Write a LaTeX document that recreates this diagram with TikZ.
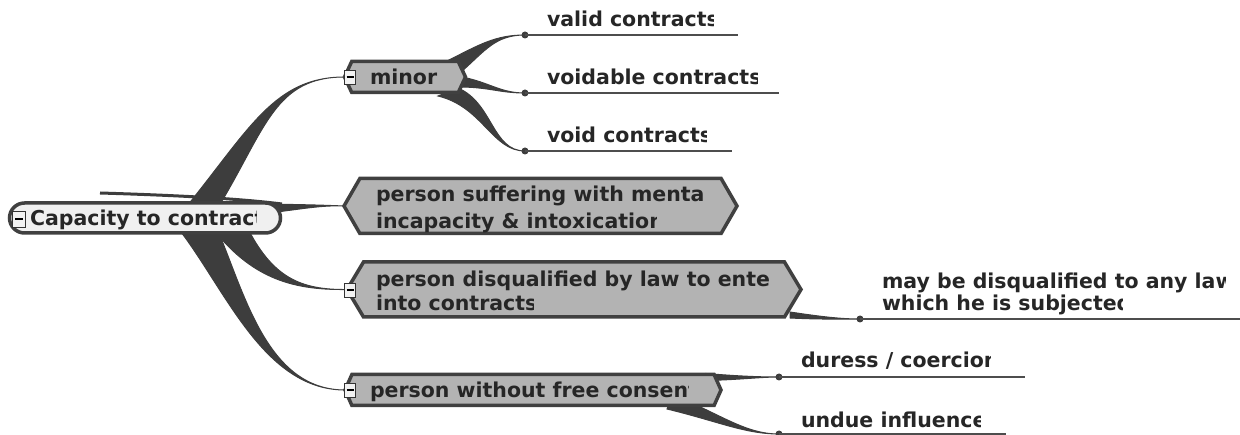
\documentclass[tikz,border=0pt]{standalone}
\usepackage{fontspec}
\setmainfont{DejaVu Sans}
\usetikzlibrary{shapes.symbols,calc,backgrounds}
\definecolor{brc}{HTML}{3D3D3D}
\definecolor{hexfill}{HTML}{B3B3B3}
\definecolor{hexline}{HTML}{404040}
\definecolor{rootfill}{HTML}{F0F0F0}
\definecolor{txt}{HTML}{262626}
\definecolor{ulinec}{HTML}{4D4D4D}

% label line, cut off at the right like the original
\newcommand{\cutlabel}[5]{%
  \begin{scope}
    \clip (#2-3,#3-24) rectangle (#4,#3+8);
    \node[lbl] (#1) at (#2,#3) {#5};
  \end{scope}}
% tapered branch: start, control 1, control 2, end, half width
\newcommand{\twig}[5]{%
  \fill[branch] ($#1+#5$) .. controls ($#2+0.5*#5$) and #3 .. #4
    .. controls #3 and ($#2-0.5*#5$) .. ($#1-#5$) -- cycle;}

\begin{document}
\begin{tikzpicture}[x=1pt,y=-1pt,
  every node/.style={inner sep=0pt,outer sep=0pt},%
  lbl/.style={font=\bfseries\fontsize{20.5}{24}\selectfont,text=txt,anchor=base west},%
  hex/.style={shape=signal,signal to=west and east,draw=hexline,fill=hexfill,line width=3.5pt},%
  topic/.style={rectangle,rounded corners=15pt,draw=hexline,fill=rootfill,line width=3.5pt},%
  branch/.style={fill=brc,draw=brc,line width=1pt},%
  uline/.style={draw=ulinec,line width=2pt},%
  knob/.style={circle,fill=brc,minimum size=7pt},%
  fold/.style={draw=black!80,fill=gray!10,line width=0.8pt,minimum width=11pt,minimum height=14pt},%
  ]
  \useasboundingbox (0,0) rectangle (1240,435);

  % main topic and sub topics
  \node (root) [topic,minimum width=271pt,minimum height=30pt] at (145,218) {};
  \node (minor) [hex,minimum width=121pt,minimum height=31pt,signal pointer angle=130] at (405,77) {};
  \node (mental) [hex,minimum width=393pt,minimum height=55pt,signal pointer angle=120] at (540.5,206) {};
  \node (law) [hex,minimum width=454pt,minimum height=55pt,signal pointer angle=118] at (574,289.5) {};
  \node (consent) [hex,minimum width=376pt,minimum height=31pt,signal pointer angle=132] at (533,390) {};

  % collapse boxes
  \node (rootFold) [fold,minimum width=13pt,minimum height=16pt] at (19,219) {\rule{8pt}{1.8pt}};
  \node (minorFold) [fold] at (350,77) {\rule{7pt}{1.6pt}};
  \node (lawFold) [fold] at (350,290) {\rule{7pt}{1.6pt}};
  \node (consentFold) [fold] at (350,390) {\rule{7pt}{1.6pt}};

  % knobs at the end of the branches
  \node (validK) [knob] at (525,35) {};
  \node (voidableK) [knob] at (525,93) {};
  \node (voidK) [knob] at (525,151) {};
  \node (maybeK) [knob] at (860,319) {};
  \node (duressK) [knob] at (779,377) {};
  \node (undueK) [knob] at (779,434) {};
  \coordinate (validEnd) at (738,35);
  \coordinate (voidableEnd) at (779,93);
  \coordinate (voidEnd) at (732,151);
  \coordinate (maybeEnd) at (1240,319);
  \coordinate (duressEnd) at (1025,377);
  \coordinate (undueEnd) at (1006,434);

  \draw [uline] (validK.center) -- (validEnd);
  \draw [uline] (voidableK.center) -- (voidableEnd);
  \draw [uline] (voidK.center) -- (voidEnd);
  \draw [uline] (maybeK.center) -- (maybeEnd);
  \draw [uline] (duressK.center) -- (duressEnd);
  \draw [uline] (undueK.center) -- (undueEnd);

  % texts
  \cutlabel{rootT}{30}{226}{256}{Capacity to contract}
  \cutlabel{minorT}{370}{85}{460}{minor}
  \cutlabel{validT}{547}{27}{713}{valid contracts}
  \cutlabel{voidableT}{547}{85}{757}{voidable contracts}
  \cutlabel{voidT}{547}{143}{706}{void contracts}
  \cutlabel{mentalA}{376}{202}{703}{person suffering with mental}
  \cutlabel{mentalB}{376}{229}{656}{incapacity \& intoxication}
  \cutlabel{lawA}{376}{287}{770}{person disqualified by law to enter}
  \cutlabel{lawB}{376}{311}{533}{into contracts}
  \cutlabel{consentT}{370}{398}{688}{person without free consent}
  \cutlabel{maybeA}{882}{289}{1225}{may be disqualified to any law}
  \cutlabel{maybeB}{882}{311}{1122}{which he is subjected}
  \cutlabel{duressT}{801}{368}{990}{duress / coercion}
  \cutlabel{undueT}{801}{428}{980}{undue influence}

  % branches
  \begin{scope}[on background layer]
    \twig{(203,206)}{(258,128)}{(275,77)}{(minor.west)}{(16,0)}
    \twig{(260,209)}{(300,207)}{(320,205)}{(mental.west)}{(0,5)}
    \draw [brc,line width=3pt] (100,193) .. controls (200,196) and (250,200) .. (282,204);
    \twig{(232,230)}{(265,280)}{(300,290)}{(law.west)}{(14,-5)}
    \twig{(198,228)}{(235,290)}{(265,390)}{(consent.west)}{(17,-4)}
    \twig{(455,66)}{(482,48)}{(495,35)}{(validK.center)}{(-6,-6)}
    \twig{(462,82)}{(490,85)}{(500,93)}{(voidableK.center)}{(0,-5)}
    \twig{(448,92)}{(488,105)}{(492,151)}{(voidK.center)}{(10,-4)}
    \twig{(790,315)}{(820,318)}{(840,319)}{(maybeK.center)}{(0,-3)}
    \twig{(706,377)}{(740,378)}{(760,377)}{(duressK.center)}{(0,-3.5)}
    \twig{(670,402)}{(720,418)}{(745,434)}{(undueK.center)}{(3,-7)}
  \end{scope}
\end{tikzpicture}
\end{document}
